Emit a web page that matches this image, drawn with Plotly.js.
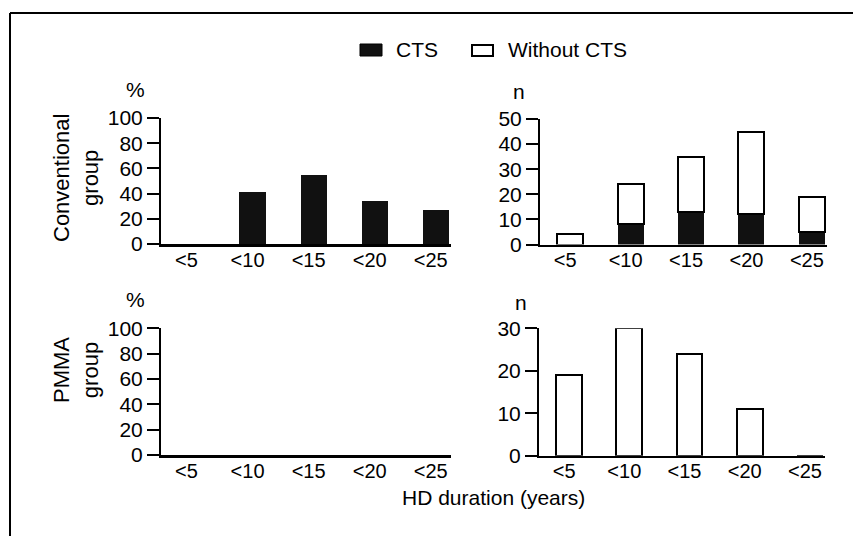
<!DOCTYPE html>
<html>
<head>
<meta charset="utf-8">
<script src="https://cdn.plot.ly/plotly-3.0.1.min.js"></script>
<style>html,body{margin:0;padding:0;background:#fff;}#chart{width:853px;height:536px;}</style>
</head>
<body>
<div id="chart"></div>
<script>
// ---- data ----
const categories = ['<5', '<10', '<15', '<20', '<25'];
// Conventional group
const convPctCTS = [0, 41, 55, 34, 27];          // % with CTS
const convNCTS = [0, 8, 13, 12, 5];              // n with CTS
const convNWithout = [4, 16, 22, 33, 14];        // n without CTS
// PMMA group
const pmmaPctCTS = [0, 0, 0, 0, 0];
const pmmaNCTS = [0, 0, 0, 0, 0];
const pmmaNWithout = [19, 30, 24, 11, 0];
// tick values
const pctTicks = [0, 20, 40, 60, 80, 100];
const convNTicks = [0, 10, 20, 30, 40, 50];
const pmmaNTicks = [0, 10, 20, 30];

const W = 853, H = 536;
const FONT = 'Liberation Sans, Arial, Helvetica, sans-serif';
const px = v => v / W;
const py = v => 1 - v / H;

const BW = 0.43;
const ctsMarker = {color: '#111', line: {color: '#000', width: 0}};
const woMarker = {color: '#fff', line: {color: '#000', width: 2}};

const traces = [
  {type: 'bar', x: categories, y: convPctCTS, xaxis: 'x', yaxis: 'y', width: BW, marker: ctsMarker, name: 'CTS', showlegend: false},
  {type: 'bar', x: categories, y: convNCTS, xaxis: 'x2', yaxis: 'y2', width: BW, marker: ctsMarker, name: 'CTS', showlegend: false},
  {type: 'bar', x: categories, y: convNWithout, xaxis: 'x2', yaxis: 'y2', width: BW, marker: woMarker, name: 'Without CTS', showlegend: false},
  {type: 'bar', x: categories, y: pmmaPctCTS, xaxis: 'x3', yaxis: 'y3', width: BW, marker: ctsMarker, name: 'CTS', showlegend: false},
  {type: 'bar', x: categories, y: pmmaNCTS, xaxis: 'x4', yaxis: 'y4', width: BW, marker: ctsMarker, name: 'CTS', showlegend: false},
  {type: 'bar', x: categories, y: pmmaNWithout, xaxis: 'x4', yaxis: 'y4', width: BW, marker: woMarker, name: 'Without CTS', showlegend: false}
];

function xAx(d0, d1, anchor) {
  return {
    domain: [px(d0), px(d1)], anchor: anchor, type: 'category', range: [-0.5, 4.25],
    showline: true, linewidth: 2.5, linecolor: '#000', ticks: '', showgrid: false, zeroline: false,
    tickfont: {family: FONT, size: 20, color: '#000'}, ticklabelshift: -5, ticklabelstandoff: -4,
    fixedrange: true
  };
}
function yAx(top, bottom, anchor, ticks) {
  return {
    domain: [py(bottom), py(top)], anchor: anchor, range: [0, ticks[ticks.length - 1]],
    tickvals: ticks, showline: true, linewidth: 2, linecolor: '#000',
    ticks: 'outside', ticklen: 12, tickwidth: 2, tickcolor: '#000',
    showgrid: false, zeroline: false,
    tickfont: {family: FONT, size: 21, color: '#000'}, fixedrange: true
  };
}

const ann = (x, y, text, extra) => Object.assign({
  xref: 'paper', yref: 'paper', x: px(x), y: py(y), text: text, showarrow: false,
  font: {family: FONT, size: 21, color: '#000'}, xanchor: 'center', yanchor: 'middle'
}, extra || {});

const sideFont = {family: FONT, size: 22, color: '#000'};

const layout = {
  width: W, height: H, autosize: false,
  margin: {l: 0, r: 0, t: 0, b: 0},
  paper_bgcolor: '#fff', plot_bgcolor: 'rgba(0,0,0,0)',
  barmode: 'stack', showlegend: false,
  font: {family: FONT, color: '#000'},
  xaxis: xAx(161, 451, 'y'),
  yaxis: yAx(118, 244, 'x', pctTicks),
  xaxis2: xAx(540, 827, 'y2'),
  yaxis2: yAx(119, 244.5, 'x2', convNTicks),
  xaxis3: xAx(161, 451, 'y3'),
  yaxis3: yAx(328.3, 455, 'x3', pctTicks),
  xaxis4: xAx(539, 825, 'y4'),
  yaxis4: yAx(328.3, 455.7, 'x4', pmmaNTicks),
  annotations: [
    ann(135, 89, '%'),
    ann(519, 91, 'n'),
    ann(135, 299, '%'),
    ann(521, 302, 'n'),
    ann(76, 178, 'Conventional<br>group', {textangle: -90, font: sideFont}),
    ann(76, 370, 'PMMA<br>group', {textangle: -90, font: sideFont}),
    ann(493, 497, 'HD duration (years)'),
    ann(394, 50, 'CTS', {xanchor: 'left'}),
    ann(506, 50, 'Without CTS', {xanchor: 'left'})
  ],
  shapes: [
    // figure frame (top and left)
    {type: 'line', xref: 'paper', yref: 'paper', x0: px(10), x1: 1, y0: py(13), y1: py(13), line: {color: '#000', width: 2}},
    {type: 'line', xref: 'paper', yref: 'paper', x0: px(10), x1: px(10), y0: py(13), y1: 0, line: {color: '#000', width: 2}},
    // legend swatches
    {type: 'rect', xref: 'paper', yref: 'paper', x0: px(360), x1: px(382), y0: py(56), y1: py(44), fillcolor: '#111', line: {color: '#000', width: 1}},
    {type: 'rect', xref: 'paper', yref: 'paper', x0: px(472), x1: px(493), y0: py(56), y1: py(45), fillcolor: '#fff', line: {color: '#000', width: 2}}
  ]
};

Plotly.newPlot('chart', traces, layout, {displayModeBar: false, staticPlot: true});
</script>
</body>
</html>
